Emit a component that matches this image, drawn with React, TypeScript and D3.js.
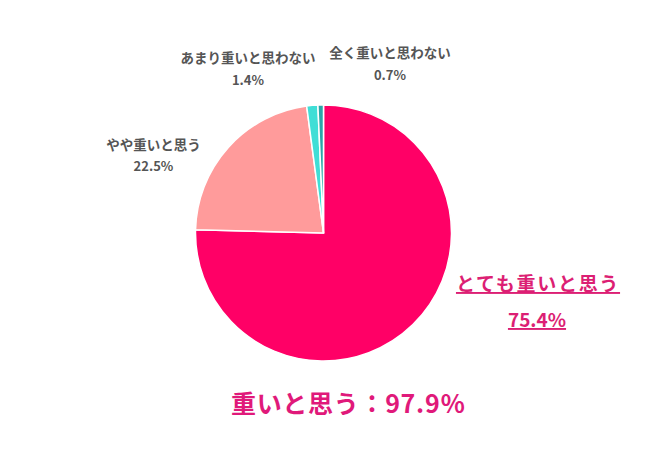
import { useEffect, useRef } from "react";
import * as d3 from "d3";

const categories = ["とても重いと思う", "やや重いと思う", "あまり重いと思わない", "全く重いと思わない"];
const values = [75.4, 22.5, 1.4, 0.7];
const colors = ["#FF0066", "#FF9B9B", "#40DED6", "#2AA6A8"];
const totalLabel = "重いと思う：97.9％";

export default function App() {
  const svgRef = useRef<SVGSVGElement>(null);

  useEffect(() => {
    const width = 650;
    const height = 457;
    const svg = d3.select(svgRef.current).attr("width", width).attr("height", height);
    svg.selectAll("*").remove();

    const cx = 323.5;
    const cy = 233;
    const r = 128;

    // pie from 12 o'clock, clockwise, keep input order
    const pie = d3.pie<number>().sort(null).value((d) => d);
    const arc = d3.arc<d3.PieArcDatum<number>>().innerRadius(0).outerRadius(r);

    const g = svg.append("g").attr("transform", `translate(${cx},${cy})`);
    g.selectAll("path")
      .data(pie(values))
      .join("path")
      .attr("d", arc)
      .attr("fill", (_, i) => colors[i])
      .attr("stroke", "#fff")
      .attr("stroke-width", 1.5);

    const font = "'Noto Sans CJK JP', 'Noto Sans', sans-serif";

    // small gray labels
    const small = [
      { i: 1, x: 153.5, y1: 150, y2: 171 },
      { i: 2, x: 248, y1: 63, y2: 85 },
      { i: 3, x: 390, y1: 58, y2: 80 },
    ];
    small.forEach((s) => {
      svg
        .append("text")
        .attr("x", s.x)
        .attr("y", s.y1)
        .attr("text-anchor", "middle")
        .attr("font-family", font)
        .attr("font-weight", "bold")
        .attr("font-size", 13.5)
        .attr("fill", "#555")
        .text(categories[s.i]);
      svg
        .append("text")
        .attr("x", s.x)
        .attr("y", s.y2)
        .attr("text-anchor", "middle")
        .attr("font-family", font)
        .attr("font-weight", "bold")
        .attr("font-size", 13)
        .attr("fill", "#555")
        .text(`${values[s.i]}%`);
    });

    // main slice label, underlined
    const pink = "#DC1F74";
    svg
      .append("text")
      .attr("x", 538)
      .attr("y", 291)
      .attr("text-anchor", "middle")
      .attr("font-family", font)
      .attr("font-weight", "bold")
      .attr("font-size", 19)
      .attr("letter-spacing", 1.7)
      .attr("text-decoration", "underline")
      .attr("fill", pink)
      .text(categories[0]);
    svg
      .append("text")
      .attr("x", 537)
      .attr("y", 327)
      .attr("text-anchor", "middle")
      .attr("font-family", font)
      .attr("font-weight", "bold")
      .attr("font-size", 19)
      .attr("text-decoration", "underline")
      .attr("fill", pink)
      .text(`${values[0]}%`);

    // total
    svg
      .append("text")
      .attr("x", 348.5)
      .attr("y", 413)
      .attr("text-anchor", "middle")
      .attr("font-family", font)
      .attr("font-weight", "bold")
      .attr("font-size", 25)
      .attr("letter-spacing", 0.7)
      .attr("fill", "#E0197A")
      .text(totalLabel);
  }, []);

  return (
    <div style={{ position: "absolute", left: 0, top: 0, background: "#fff" }}>
      <svg ref={svgRef}></svg>
    </div>
  );
}
